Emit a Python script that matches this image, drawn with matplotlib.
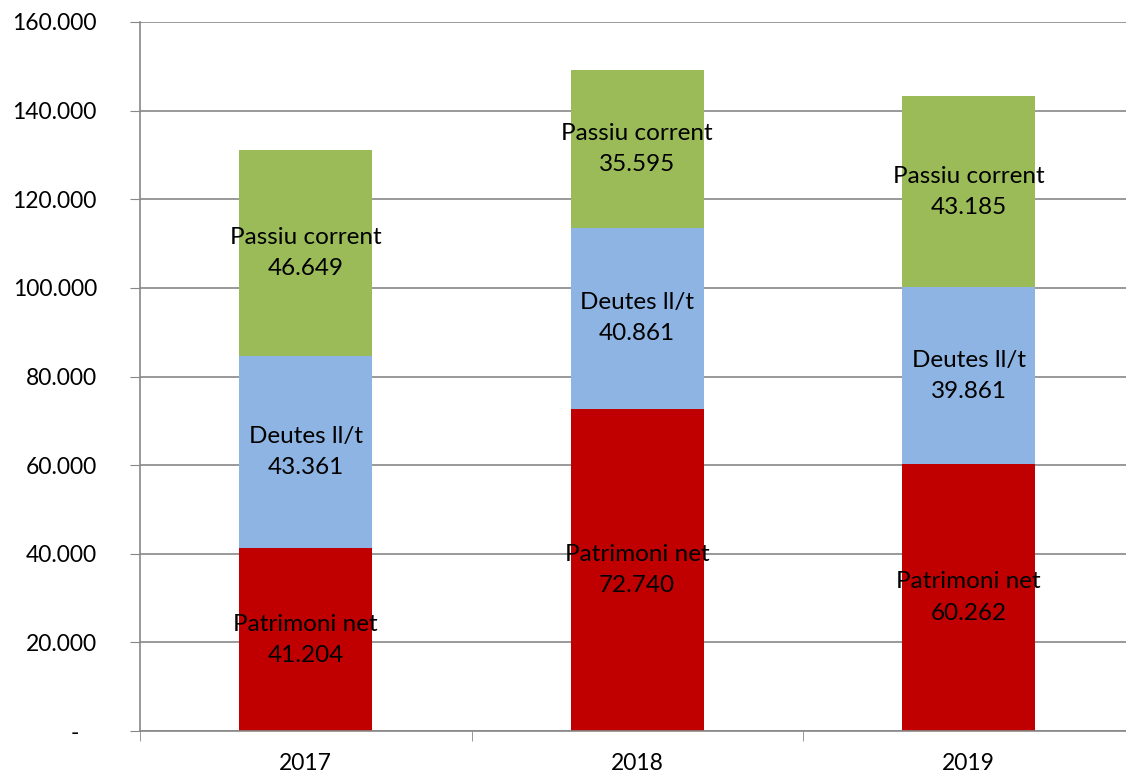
import matplotlib.pyplot as plt
import numpy as np

plt.rcParams['font.family'] = ['Lato', 'DejaVu Sans']

years = ['2017', '2018', '2019']
series = ['Patrimoni net', 'Deutes ll/t', 'Passiu corrent']
patrimoni = [41.204, 72.740, 60.262]
deutes = [43.361, 40.861, 39.861]
passiu = [46.649, 35.595, 43.185]
colors = ['#C00000', '#8DB4E2', '#9BBB59']
yticks = [0, 20, 40, 60, 80, 100, 120, 140, 160]
ytick_labels = ['-   ', '20.000', '40.000', '60.000', '80.000', '100.000',
                '120.000', '140.000', '160.000']

fig = plt.figure(figsize=(11.26, 7.78), dpi=100)
ax = fig.add_axes([140 / 1126, 47 / 778, 994.5 / 1126, 709 / 778])

x = np.arange(len(years))
bottom = np.zeros(len(years))
for name, vals, c in zip(series, [patrimoni, deutes, passiu], colors):
    vals = np.array(vals)
    ax.bar(x, vals, 0.4, bottom=bottom, color=c, zorder=2)
    for xi, b, v in zip(x, bottom, vals):
        ax.text(xi, b + v / 2, f'{name}\n{v:.3f}', ha='center', va='center',
                fontsize=17.5, linespacing=1.6, zorder=3)
    bottom += vals

ax.set_xlim(-0.5, 2.5)
ax.set_ylim(0, 160)
ax.set_yticks(yticks)
ax.set_yticklabels(ytick_labels, fontsize=16.5)
ax.set_xticks(x)
ax.set_xticklabels(years, fontsize=16.5)
ax.set_xticks([-0.5, 0.5, 1.5, 2.5], minor=True)
ax.tick_params(axis='x', which='major', length=0, pad=16)
ax.tick_params(axis='x', which='minor', length=7, color='#878787')
ax.tick_params(axis='y', length=7, color='#878787', pad=24)
ax.yaxis.grid(True, color='#878787', linewidth=1.2, zorder=0)
ax.set_axisbelow(True)
for s in ['top', 'right']:
    ax.spines[s].set_visible(False)
for s in ['left', 'bottom']:
    ax.spines[s].set_color('#878787')
    ax.spines[s].set_linewidth(1.2)

fig.savefig('out.png', dpi=100)
